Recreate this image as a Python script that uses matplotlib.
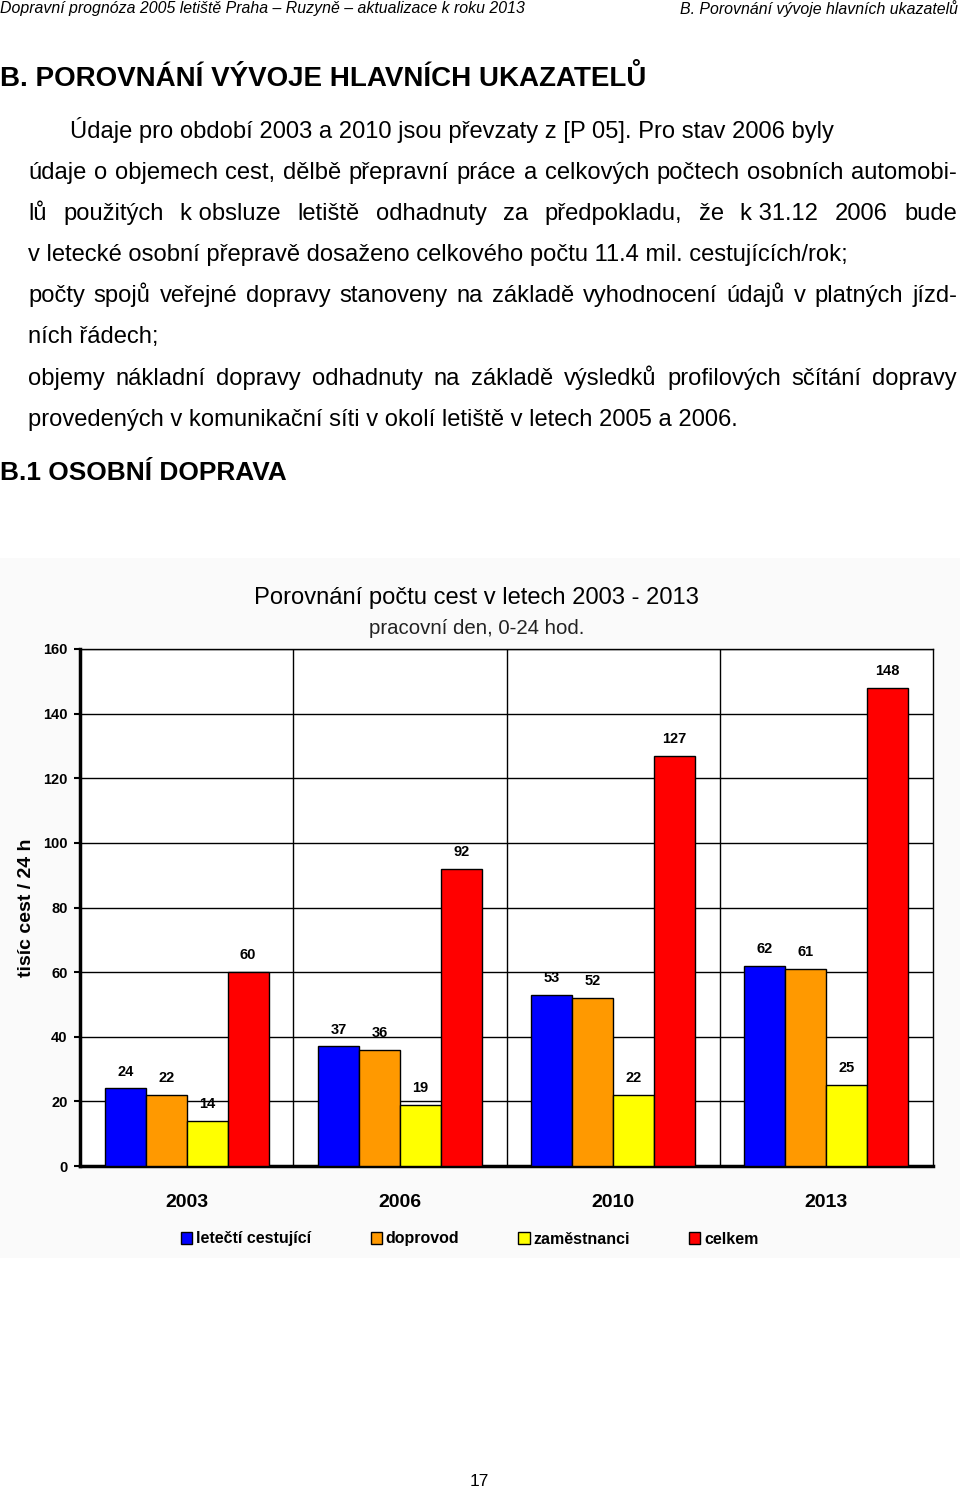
import matplotlib
matplotlib.use("Agg")
import matplotlib.pyplot as plt
import numpy as np
from matplotlib.patches import Rectangle, Patch

# ---------------- data ----------------
years = ["2003", "2006", "2010", "2013"]
series_names = ["letečtí cestující", "doprovod", "zaměstnanci", "celkem"]
letecti = [24, 37, 53, 62]
doprovod = [22, 36, 52, 61]
zamestnanci = [14, 19, 22, 25]
celkem = [60, 92, 127, 148]
yticks = [0, 20, 40, 60, 80, 100, 120, 140, 160]
colors = ["#0000FF", "#FF9900", "#FFFF00", "#FF0000"]

header_left = "Dopravní prognóza 2005 letiště Praha – Ruzyně – aktualizace k roku 2013"
header_right = "B. Porovnání vývoje hlavních ukazatelů"
heading = "B. POROVNÁNÍ VÝVOJE HLAVNÍCH UKAZATELŮ"
body_lines = [
    ("Údaje pro období 2003 a 2010 jsou převzaty z [P 05]. Pro stav 2006 byly", False),
    ("údaje o objemech cest, dělbě přepravní práce a celkových počtech osobních automobi-", True),
    ("lů|použitých|k obsluze|letiště|odhadnuty|za|předpokladu,|že|k 31.12|2006|bude", True),
    ("v letecké osobní přepravě dosaženo celkového počtu 11.4 mil. cestujících/rok;", False),
    ("počty spojů veřejné dopravy stanoveny na základě vyhodnocení údajů v platných jízd-", True),
    ("ních řádech;", False),
    ("objemy nákladní dopravy odhadnuty na základě výsledků profilových sčítání dopravy", True),
    ("provedených v komunikační síti v okolí letiště v letech 2005 a 2006.", False),
]
subheading = "B.1 OSOBNÍ DOPRAVA"
chart_title = "Porovnání počtu cest v letech 2003 - 2013"
chart_subtitle = "pracovní den, 0-24 hod."
ylabel = "tisíc cest / 24 h"
page_no = "17"

# ---------------- figure ----------------
W, H = 960, 1492
fig = plt.figure(figsize=(W / 100, H / 100), dpi=100)
fig.patch.set_facecolor("white")
renderer = fig.canvas.get_renderer()

SANS = ["Liberation Sans", "DejaVu Sans"]
NARROW = ["Liberation Sans Narrow", "Liberation Sans", "DejaVu Sans"]


def fx(x):
    return x / W


def fy(y):
    return 1 - y / H


def put(x, y, s, size, ha="left", weight="normal", style="normal", family=SANS,
        color="black", fit=None, va="center", **kw):
    t = fig.text(fx(x), fy(y), s, fontsize=size, ha=ha, va=va,
                 fontweight=weight, fontstyle=style, family=family, color=color, **kw)
    if fit is not None:
        w = t.get_window_extent(renderer).width
        t.set_fontsize(size * fit / w)
    return t


# light background behind chart image
fig.patches.append(Rectangle((0, fy(1258)), 1, (1258 - 558) / H,
                             transform=fig.transFigure, facecolor="#fafafa",
                             edgecolor="none", zorder=-5))

# header
put(0, 9, header_left, 11, style="italic", family=NARROW, fit=524)
put(958, 9, header_right, 11, ha="right", style="italic", family=NARROW, fit=278)

# heading
put(0, 79, heading, 20, weight="bold", fit=647)

# body text (baseline positioned)
y0, dy = 138, 41.1
probe = put(70, -100, body_lines[0][0], 15, fit=766)
body_size = probe.get_fontsize()
probe.remove()
for i, (line, just) in enumerate(body_lines):
    y = y0 + i * dy
    x_start = 70 if i == 0 else 28
    if just:
        words = line.split("|") if "|" in line else line.split(" ")
        texts = [put(0, y, w, body_size, va="baseline") for w in words]
        widths = [t.get_window_extent(renderer).width for t in texts]
        gap = (957 - x_start - sum(widths)) / (len(words) - 1)
        x = x_start
        for t, w in zip(texts, widths):
            t.set_x(fx(x))
            x += w + gap
    else:
        put(x_start, y, line, body_size, va="baseline")

put(0, 473, subheading, 17.5, weight="bold", fit=285)

# ---------------- chart ----------------
ax_left, ax_right, ax_top, ax_bottom = 80, 933, 649, 1166
ax = fig.add_axes([fx(ax_left), fy(ax_bottom), (ax_right - ax_left) / W,
                   (ax_bottom - ax_top) / H])
ax.set_facecolor("white")
x = np.arange(len(years))
bw = 0.192
series = [letecti, doprovod, zamestnanci, celkem]
for k, (vals, col, name) in enumerate(zip(series, colors, series_names)):
    bars = ax.bar(x + (k - 1.5) * bw, vals, bw, color=col, edgecolor="black",
                  linewidth=1.0, label=name, zorder=3)
    ax.bar_label(bars, padding=7, fontsize=10.5, fontweight="bold", family=NARROW,
                 zorder=4)

ax.set_xlim(-0.5, len(years) - 0.5)
ax.set_ylim(0, 160)
ax.set_yticks(yticks)
ax.set_yticklabels([str(v) for v in yticks], fontsize=10.5, fontweight="bold",
                   family=NARROW)
ax.yaxis.grid(True, color="black", linewidth=1.0, zorder=1)
for b in np.arange(0.5, len(years) - 0.5, 1.0):
    ax.axvline(b, color="black", linewidth=1.0, zorder=1)
ax.set_xticks(x)
ax.set_xticklabels(years, fontsize=14, fontweight="bold", family=NARROW)
ax.tick_params(axis="x", length=0, pad=20)
ax.tick_params(axis="y", length=4, width=1.5, pad=5)
for s in ["left", "bottom"]:
    ax.spines[s].set_linewidth(2.5)
for s in ["top", "right"]:
    ax.spines[s].set_linewidth(1.0)
ax.set_axisbelow(True)

ax.set_ylabel(ylabel, fontsize=14, fontweight="bold", family=NARROW, labelpad=6)

handles = [Patch(facecolor=c, edgecolor="black", linewidth=1.0) for c in colors]
fig.legend(handles, series_names, loc="center", bbox_to_anchor=(fx(470), fy(1239)),
           ncol=4, frameon=False, handlelength=0.7, handleheight=0.7,
           handletextpad=0.25, columnspacing=3.7,
           prop={"family": NARROW, "weight": "bold", "size": 11.5})

put(476, 598, chart_title, 15, ha="center", family=NARROW, fit=447)
put(477, 628, chart_subtitle, 12, ha="center", family=NARROW, fit=215, color="#222222")

put(479, 1481, page_no, 12.5, ha="center")

fig.savefig("out.png", dpi=100, facecolor="white")
